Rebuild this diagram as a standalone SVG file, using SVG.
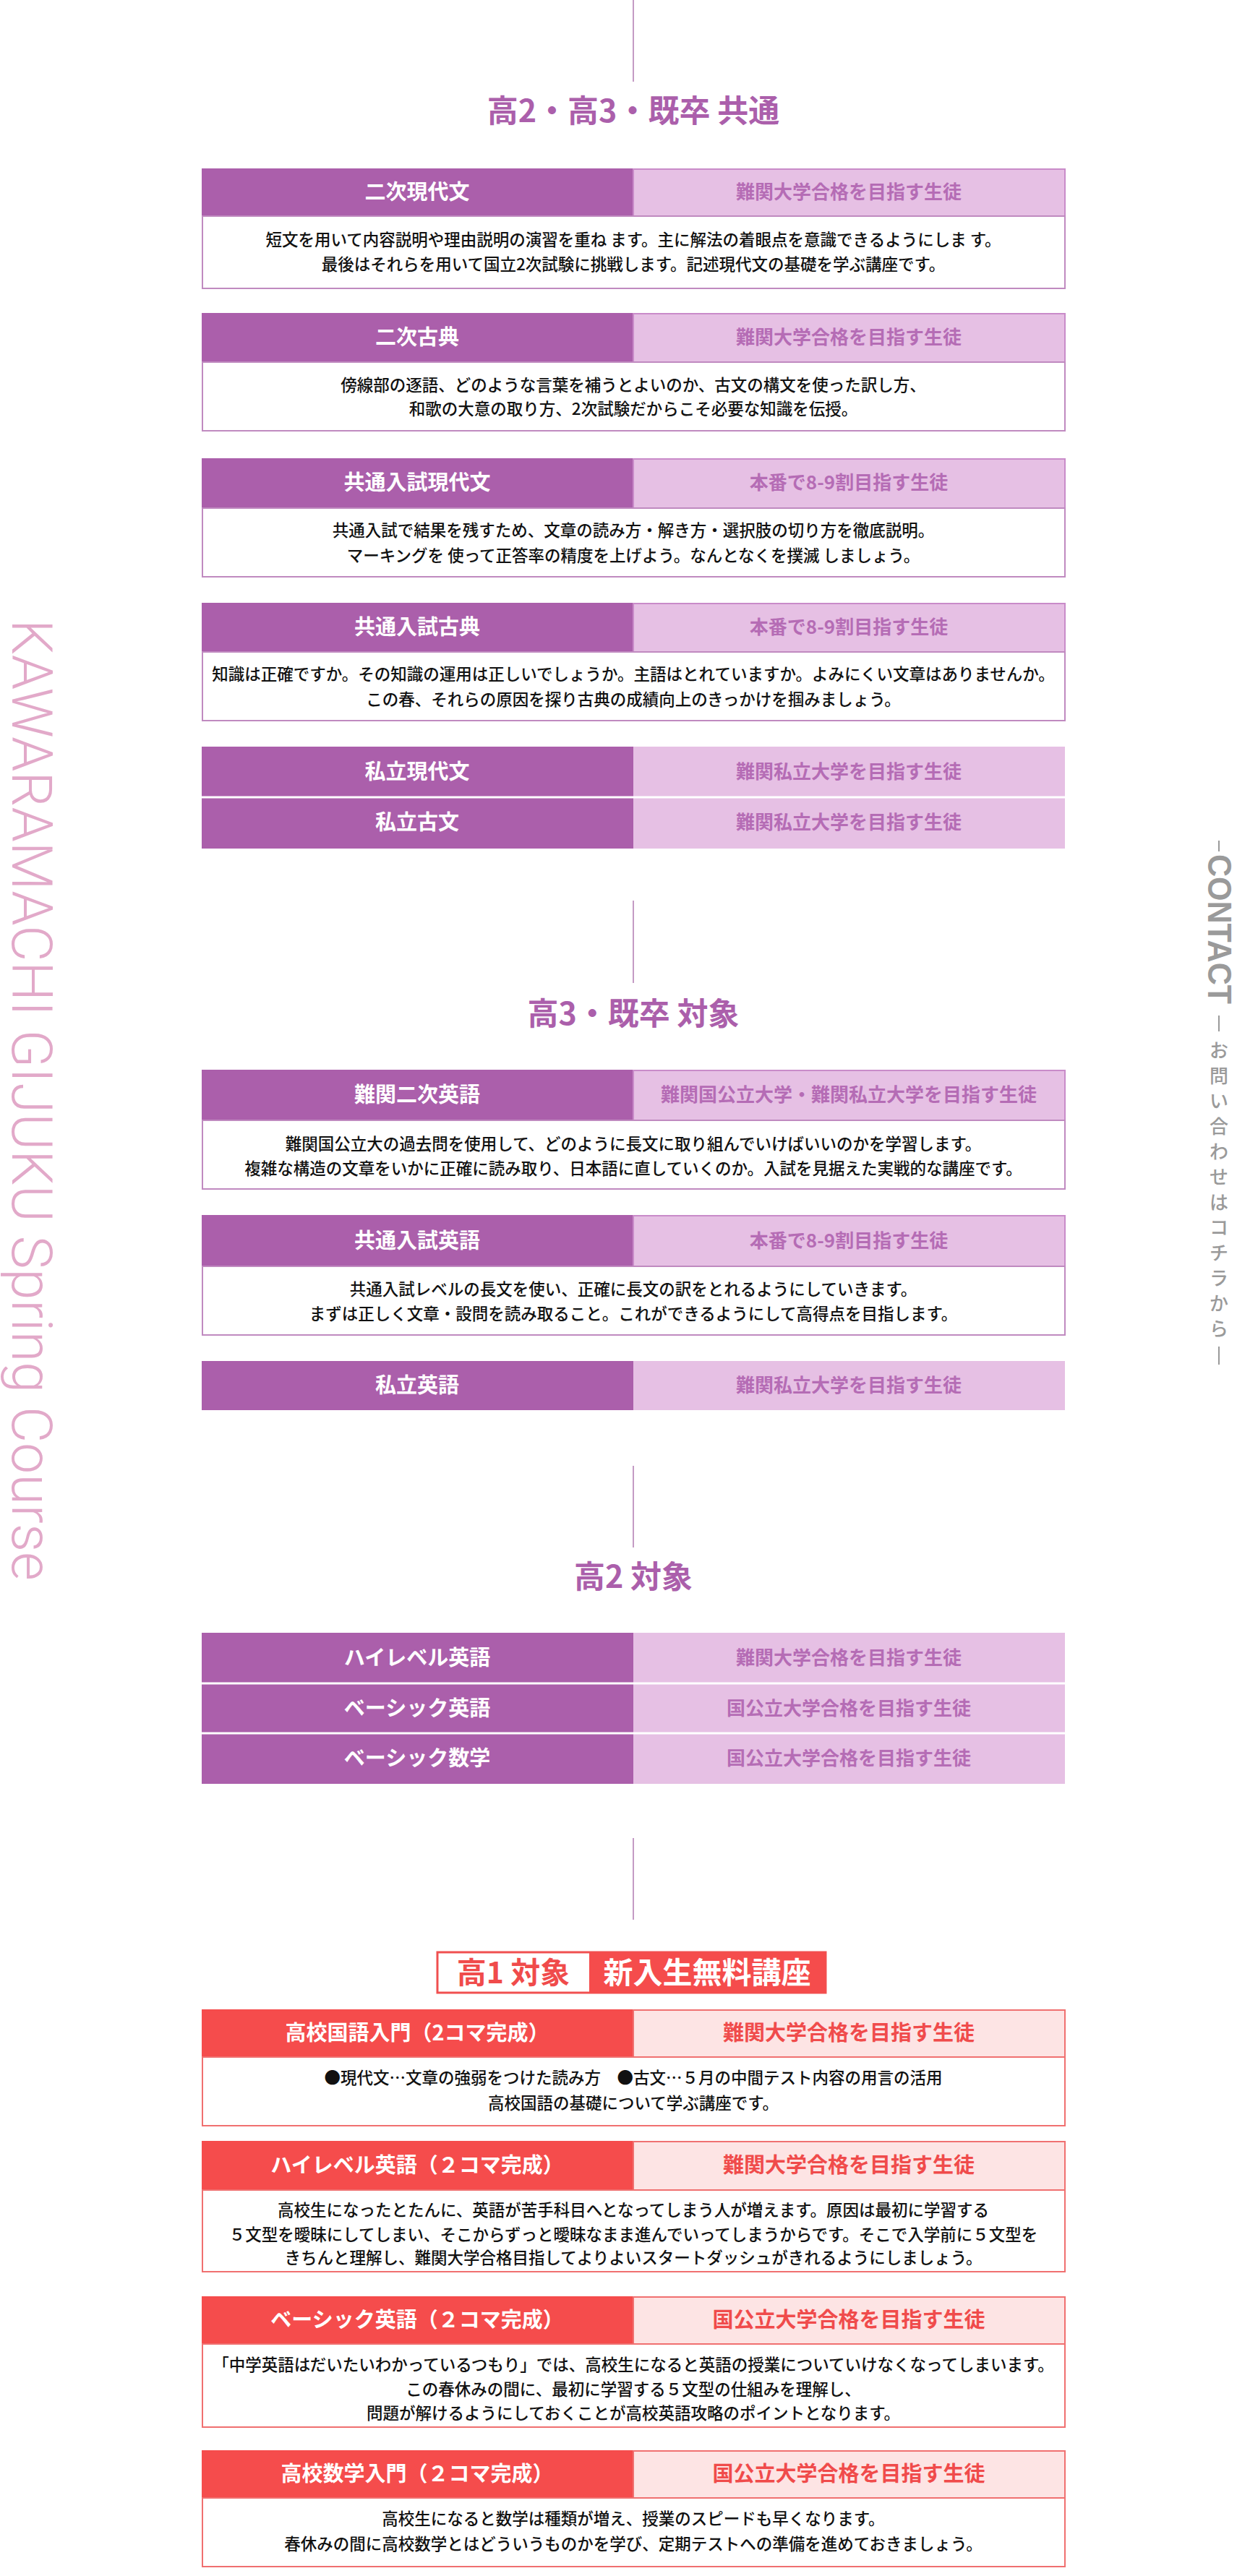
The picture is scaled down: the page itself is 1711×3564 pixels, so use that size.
<svg xmlns="http://www.w3.org/2000/svg" width="1711" height="3564" viewBox="0 0 1711 3564">
<style>
text{font-family:"Noto Sans CJK JP","Noto Sans",sans-serif}
.ttl{font-size:43px;font-weight:700;fill:#ab5fab;text-anchor:middle}
.hp{fill:#ab5fab}.lp{fill:#e6c0e4;stroke:#c98bc9;stroke-width:2}
.hr{fill:#f54c4c}.lr{fill:#fde4e4;stroke:#f07070;stroke-width:2}
.dp{fill:#fff;stroke:#c08ac0;stroke-width:2}.dr{fill:#fff;stroke:#f07070;stroke-width:2}
.hw{font-size:29px;font-weight:700;fill:#fff;text-anchor:middle}
.tp{font-size:26px;font-weight:700;fill:#b56cb5;text-anchor:middle}
.tr{font-size:29px;font-weight:700;fill:#f04b4b;text-anchor:middle}
.d{font-size:22.5px;font-weight:500;fill:#111;text-anchor:middle}
.ln{stroke:#b07ab0;stroke-width:1.5}
.sep{stroke:#fff;stroke-width:3}
.cj{font-size:26px;font-weight:500;fill:#9a9a9a;text-anchor:middle}
</style>
<g id="connectors">
<line class="ln" x1="876" y1="0" x2="876" y2="113"/>
<line class="ln" x1="876" y1="1246" x2="876" y2="1360"/>
<line class="ln" x1="876" y1="2028" x2="876" y2="2141"/>
<line class="ln" x1="876" y1="2543" x2="876" y2="2656"/>
</g>
<text x="0" y="0" transform="translate(17,857) rotate(90)" style="font-family:Roboto,sans-serif;font-weight:300;font-size:78px;fill:#e2a9c9" textLength="1330" lengthAdjust="spacingAndGlyphs">KAWARAMACHI GIJUKU Spring Course</text>
<g id="contact" fill="#9a9a9a">
<rect x="1685" y="1163" width="2" height="15"/>
<text x="0" y="0" transform="translate(1671,1182) rotate(90)" style="font-family:'Liberation Sans',sans-serif;font-weight:700;font-size:46px" textLength="207" lengthAdjust="spacingAndGlyphs">CONTACT</text>
<rect x="1685" y="1405" width="2" height="22"/>
<text class="cj" x="1686" y="1463">お</text><text class="cj" x="1686" y="1498">問</text><text class="cj" x="1686" y="1533">い</text><text class="cj" x="1686" y="1568">合</text><text class="cj" x="1686" y="1603">わ</text><text class="cj" x="1686" y="1638">せ</text><text class="cj" x="1686" y="1673">は</text><text class="cj" x="1686" y="1708">コ</text><text class="cj" x="1686" y="1743">チ</text><text class="cj" x="1686" y="1778">ラ</text><text class="cj" x="1686" y="1813">か</text><text class="cj" x="1686" y="1848">ら</text>
<rect x="1685" y="1863" width="2" height="25"/>
</g>
<text class="ttl" x="876" y="169">高2・高3・既卒 共通</text>
<g id="n1"><rect class="hp" x="279" y="233" width="597" height="66"/><rect class="lp" x="876" y="234" width="597" height="65"/><rect class="dp" x="280" y="299" width="1193" height="100"/>
<text class="hw" x="577" y="276">二次現代文</text><text class="tp" x="1174" y="275">難関大学合格を目指す生徒</text>
<text class="d" x="876" y="340">短文を用いて内容説明や理由説明の演習を重ね ます。主に解法の着眼点を意識できるようにしま す。</text>
<text class="d" x="876" y="374">最後はそれらを用いて国立2次試験に挑戦します。記述現代文の基礎を学ぶ講座です。</text></g>
<g id="n2"><rect class="hp" x="279" y="433" width="597" height="68"/><rect class="lp" x="876" y="434" width="597" height="67"/><rect class="dp" x="280" y="501" width="1193" height="95"/>
<text class="hw" x="577" y="477">二次古典</text><text class="tp" x="1174" y="476">難関大学合格を目指す生徒</text>
<text class="d" x="876" y="541">傍線部の逐語、どのような言葉を補うとよいのか、古文の構文を使った訳し方、</text>
<text class="d" x="876" y="574">和歌の大意の取り方、2次試験だからこそ必要な知識を伝授。</text></g>
<g id="n3"><rect class="hp" x="279" y="634" width="597" height="69"/><rect class="lp" x="876" y="635" width="597" height="68"/><rect class="dp" x="280" y="703" width="1193" height="95"/>
<text class="hw" x="577" y="678">共通入試現代文</text><text class="tp" x="1174" y="677">本番で8-9割目指す生徒</text>
<text class="d" x="876" y="742">共通入試で結果を残すため、文章の読み方・解き方・選択肢の切り方を徹底説明。</text>
<text class="d" x="876" y="777">マーキングを 使って正答率の精度を上げよう。なんとなくを撲滅 しましょう。</text></g>
<g id="n4"><rect class="hp" x="279" y="834" width="597" height="68"/><rect class="lp" x="876" y="835" width="597" height="67"/><rect class="dp" x="280" y="902" width="1193" height="95"/>
<text class="hw" x="577" y="878">共通入試古典</text><text class="tp" x="1174" y="877">本番で8-9割目指す生徒</text>
<text class="d" x="876" y="941">知識は正確ですか。その知識の運用は正しいでしょうか。主語はとれていますか。よみにくい文章はありませんか。</text>
<text class="d" x="876" y="976">この春、それらの原因を探り古典の成績向上のきっかけを掴みましょう。</text></g>
<g id="n5"><rect class="hp" x="279" y="1033" width="597" height="70"/><rect fill="#e6c0e4" x="876" y="1033" width="597" height="70"/>
<text class="hw" x="577" y="1078">私立現代文</text><text class="tp" x="1174" y="1077">難関私立大学を目指す生徒</text></g>
<g id="n6"><rect class="hp" x="279" y="1103" width="597" height="71"/><rect fill="#e6c0e4" x="876" y="1103" width="597" height="71"/>
<text class="hw" x="577" y="1148">私立古文</text><text class="tp" x="1174" y="1147">難関私立大学を目指す生徒</text>
<line class="sep" x1="279" y1="1103" x2="1473" y2="1103"/></g>
<text class="ttl" x="876" y="1418">高3・既卒 対象</text>
<g id="n7"><rect class="hp" x="279" y="1480" width="597" height="70"/><rect class="lp" x="876" y="1481" width="597" height="69"/><rect class="dp" x="280" y="1550" width="1193" height="95"/>
<text class="hw" x="577" y="1525">難関二次英語</text><text class="tp" x="1174" y="1524">難関国公立大学・難関私立大学を目指す生徒</text>
<text class="d" x="876" y="1591">難関国公立大の過去問を使用して、どのように長文に取り組んでいけばいいのかを学習します。</text>
<text class="d" x="876" y="1625">複雑な構造の文章をいかに正確に読み取り、日本語に直していくのか。入試を見据えた実戦的な講座です。</text></g>
<g id="n8"><rect class="hp" x="279" y="1681" width="597" height="71"/><rect class="lp" x="876" y="1682" width="597" height="70"/><rect class="dp" x="280" y="1752" width="1193" height="95"/>
<text class="hw" x="577" y="1727">共通入試英語</text><text class="tp" x="1174" y="1726">本番で8-9割目指す生徒</text>
<text class="d" x="876" y="1792">共通入試レベルの長文を使い、正確に長文の訳をとれるようにしていきます。</text>
<text class="d" x="876" y="1826">まずは正しく文章・設問を読み取ること。これができるようにして高得点を目指します。</text></g>
<g id="n9"><rect class="hp" x="279" y="1883" width="597" height="68"/><rect fill="#e6c0e4" x="876" y="1883" width="597" height="68"/>
<text class="hw" x="577" y="1927">私立英語</text><text class="tp" x="1174" y="1926">難関私立大学を目指す生徒</text></g>
<text class="ttl" x="876" y="2197">高2 対象</text>
<g id="n10"><rect class="hp" x="279" y="2259" width="597" height="70"/><rect fill="#e6c0e4" x="876" y="2259" width="597" height="70"/>
<text class="hw" x="577" y="2304">ハイレベル英語</text><text class="tp" x="1174" y="2303">難関大学合格を目指す生徒</text></g>
<g id="n11"><rect class="hp" x="279" y="2329" width="597" height="69"/><rect fill="#e6c0e4" x="876" y="2329" width="597" height="69"/>
<text class="hw" x="577" y="2374">ベーシック英語</text><text class="tp" x="1174" y="2373">国公立大学合格を目指す生徒</text>
<line class="sep" x1="279" y1="2329" x2="1473" y2="2329"/></g>
<g id="n12"><rect class="hp" x="279" y="2398" width="597" height="70"/><rect fill="#e6c0e4" x="876" y="2398" width="597" height="70"/>
<text class="hw" x="577" y="2443">ベーシック数学</text><text class="tp" x="1174" y="2442">国公立大学合格を目指す生徒</text>
<line class="sep" x1="279" y1="2398" x2="1473" y2="2398"/></g>
<g id="title4"><rect x="605" y="2701" width="537" height="56" fill="#fff" stroke="#f05050" stroke-width="3"/><rect x="815" y="2701" width="327" height="56" fill="#f54c4c"/>
<text x="710" y="2744" style="font-size:41px;font-weight:700;fill:#f04b4b;text-anchor:middle">高1 対象</text>
<text x="978" y="2744" style="font-size:41px;font-weight:700;fill:#fff;text-anchor:middle">新入生無料講座</text></g>
<g id="n13"><rect class="hr" x="279" y="2780" width="597" height="66"/><rect class="lr" x="876" y="2781" width="597" height="65"/><rect class="dr" x="280" y="2846" width="1193" height="95"/>
<text class="hw" x="577" y="2823">高校国語入門（2コマ完成）</text><text class="tr" x="1174" y="2823">難関大学合格を目指す生徒</text>
<text class="d" x="876" y="2883">●現代文…文章の強弱をつけた読み方　●古文…５月の中間テスト内容の用言の活用</text>
<text class="d" x="876" y="2918">高校国語の基礎について学ぶ講座です。</text></g>
<g id="n14"><rect class="hr" x="279" y="2962" width="597" height="68"/><rect class="lr" x="876" y="2963" width="597" height="67"/><rect class="dr" x="280" y="3030" width="1193" height="113"/>
<text class="hw" x="577" y="3006">ハイレベル英語（２コマ完成）</text><text class="tr" x="1174" y="3006">難関大学合格を目指す生徒</text>
<text class="d" x="876" y="3066">高校生になったとたんに、英語が苦手科目へとなってしまう人が増えます。原因は最初に学習する</text>
<text class="d" x="876" y="3100">５文型を曖昧にしてしまい、そこからずっと曖昧なまま進んでいってしまうからです。そこで入学前に５文型を</text>
<text class="d" x="876" y="3132">きちんと理解し、難関大学合格目指してよりよいスタートダッシュがきれるようにしましょう。</text></g>
<g id="n15"><rect class="hr" x="279" y="3177" width="597" height="66"/><rect class="lr" x="876" y="3178" width="597" height="65"/><rect class="dr" x="280" y="3243" width="1193" height="115"/>
<text class="hw" x="577" y="3220">ベーシック英語（２コマ完成）</text><text class="tr" x="1174" y="3220">国公立大学合格を目指す生徒</text>
<text class="d" x="876" y="3280">「中学英語はだいたいわかっているつもり」では、高校生になると英語の授業についていけなくなってしまいます。</text>
<text class="d" x="876" y="3314">この春休みの間に、最初に学習する５文型の仕組みを理解し、</text>
<text class="d" x="876" y="3347">問題が解けるようにしておくことが高校英語攻略のポイントとなります。</text></g>
<g id="n16"><rect class="hr" x="279" y="3390" width="597" height="66"/><rect class="lr" x="876" y="3391" width="597" height="65"/><rect class="dr" x="280" y="3456" width="1193" height="95"/>
<text class="hw" x="577" y="3433">高校数学入門（２コマ完成）</text><text class="tr" x="1174" y="3433">国公立大学合格を目指す生徒</text>
<text class="d" x="876" y="3493">高校生になると数学は種類が増え、授業のスピードも早くなります。</text>
<text class="d" x="876" y="3528">春休みの間に高校数学とはどういうものかを学び、定期テストへの準備を進めておきましょう。</text></g>
</svg>
